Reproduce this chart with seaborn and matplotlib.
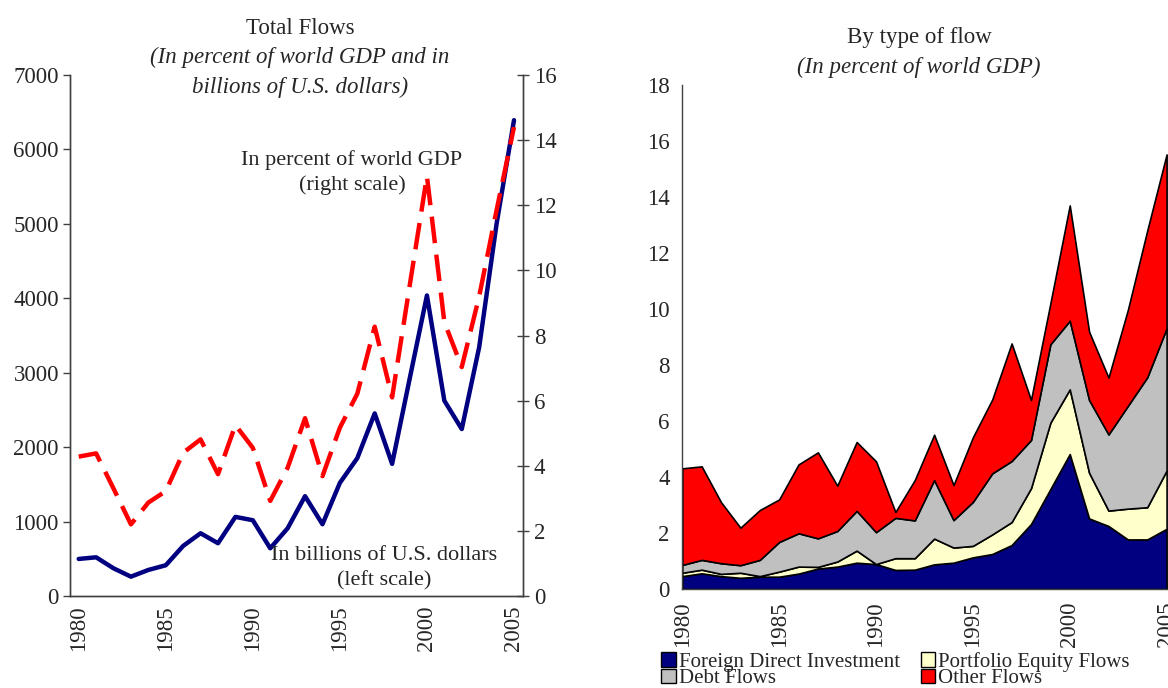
import numpy as np
import matplotlib
matplotlib.use("Agg")
import matplotlib.pyplot as plt
from matplotlib.patches import Patch
import seaborn as sns

sns.set_style("white")
plt.rcParams['font.family'] = ['Liberation Serif', 'DejaVu Serif']

# data
years = list(range(1980, 2006))
usd_bn = [498, 520, 372, 260, 350, 413, 673, 843, 709, 1063, 1018, 641, 910,
          1341, 964, 1520, 1852, 2453, 1775, 2910, 4038, 2624, 2243, 3342, 5000, 6393]
pct_gdp = [4.28, 4.38, 3.3, 2.2, 2.87, 3.22, 4.4, 4.81, 3.74, 5.25, 4.55, 2.92, 3.94,
           5.46, 3.68, 5.17, 6.21, 8.27, 6.1, 9.5, 12.89, 8.41, 7.03, 9.2, 11.85, 14.4]

fdi = [0.46, 0.56, 0.46, 0.40, 0.44, 0.44, 0.55, 0.73, 0.80, 0.94, 0.89, 0.68, 0.69,
       0.88, 0.94, 1.13, 1.25, 1.57, 2.32, 3.57, 4.82, 2.52, 2.25, 1.77, 1.77, 2.15]
port_eq = [0.12, 0.13, 0.08, 0.18, 0.02, 0.18, 0.25, 0.06, 0.18, 0.43, 0.0, 0.42, 0.41,
           0.92, 0.54, 0.41, 0.70, 0.82, 1.28, 2.37, 2.31, 1.63, 0.55, 1.10, 1.15, 2.08]
debt = [0.28, 0.35, 0.38, 0.27, 0.58, 1.06, 1.19, 1.02, 1.09, 1.42, 1.14, 1.44, 1.35,
        2.09, 0.98, 1.57, 2.18, 2.18, 1.72, 2.80, 2.45, 2.60, 2.72, 3.67, 4.64, 5.08]
other = [3.45, 3.34, 2.18, 1.34, 1.78, 1.52, 2.46, 3.07, 1.62, 2.46, 2.53, 0.21, 1.44,
         1.62, 1.25, 2.31, 2.64, 4.20, 1.43, 1.46, 4.12, 2.44, 2.03, 3.43, 5.24, 6.21]
flow_names = ['Foreign Direct Investment', 'Portfolio Equity Flows', 'Debt Flows', 'Other Flows']
flow_colors = ['#000080', '#FFFFCC', '#C0C0C0', '#FF0000']

W, H = 1168, 688
fs = 16.5
axcol = '#404040'
fig = plt.figure(figsize=(W / 100, H / 100), dpi=100)

# ---------- left panel: total flows
ax1 = fig.add_axes([70 / W, 92 / H, 452.7 / W, 521 / H])
ax2 = ax1.twinx()
sns.lineplot(x=years, y=usd_bn, ax=ax1, color='#000080', linewidth=3.2)
sns.lineplot(x=years, y=pct_gdp, ax=ax2, color='#FF0000', linewidth=3.2,
             linestyle=(0, (6, 2.6)))

ax1.set_xlim(1979.5, 2005.5)
ax1.set_ylim(0, 7000)
ax2.set_ylim(0, 16)
ax1.set_yticks(range(0, 7001, 1000))
ax2.set_yticks(range(0, 17, 2))
ax1.set_xticks([y for y in years if y % 5 == 0])
ax1.set_xticks([y - 0.5 for y in years] + [2005.5], minor=True)
ax1.tick_params(axis='x', which='major', length=0, pad=6.5, labelrotation=90, labelsize=fs)
ax1.tick_params(axis='x', which='minor', length=5, width=1, color=axcol, direction='out')
ax1.tick_params(axis='y', length=5, width=1, color=axcol, direction='out', pad=3, labelsize=fs)
ax2.tick_params(axis='y', length=8, width=1, color=axcol, direction='inout', pad=4, labelsize=fs)
for a in (ax1, ax2):
    a.spines['top'].set_visible(False)
    for s in ('left', 'right', 'bottom'):
        a.spines[s].set_color(axcol)
        a.spines[s].set_linewidth(1)
    a.set_xlabel('')
    a.set_ylabel('')

fig.text(300 / W, 1 - 28 / H, 'Total Flows', ha='center', va='center', fontsize=fs)
fig.text(300 / W, 1 - 57 / H, '(In percent of world GDP and in', ha='center', va='center',
         fontsize=fs, style='italic')
fig.text(300 / W, 1 - 87 / H, 'billions of U.S. dollars)', ha='center', va='center',
         fontsize=fs, style='italic')
fig.text(352 / W, 1 - 160 / H, 'In percent of world GDP', ha='center', va='center', fontsize=16)
fig.text(352 / W, 1 - 185 / H, '(right scale)', ha='center', va='center', fontsize=16)
fig.text(384 / W, 1 - 556 / H, 'In billions of U.S. dollars', ha='center', va='center', fontsize=16)
fig.text(384 / W, 1 - 581 / H, '(left scale)', ha='center', va='center', fontsize=16)

# ---------- right panel: by type of flow
ax3 = fig.add_axes([682.3 / W, 99 / H, 484.3 / W, 504 / H])
ax3.stackplot(years, fdi, port_eq, debt, other, colors=flow_colors,
              edgecolor='black', linewidth=1.2)
ax3.set_xlim(1980, 2005)
ax3.set_ylim(0, 18)
ax3.set_yticks(range(0, 19, 2))
ax3.set_xticks(years)
ax3.set_xticklabels([str(y) if y % 5 == 0 else '' for y in years])
ax3.tick_params(axis='x', length=5, width=1, color=axcol, direction='out', pad=4,
                labelrotation=90, labelsize=fs)
ax3.tick_params(axis='y', length=5, width=1, color=axcol, direction='out', pad=4, labelsize=fs)
for s in ('top', 'right'):
    ax3.spines[s].set_visible(False)
for s in ('left', 'bottom'):
    ax3.spines[s].set_color(axcol)
    ax3.spines[s].set_linewidth(1)

fig.text(919 / W, 1 - 37 / H, 'By type of flow', ha='center', va='center', fontsize=fs)
fig.text(919 / W, 1 - 67 / H, '(In percent of world GDP)', ha='center', va='center',
         fontsize=fs, style='italic')

order = [0, 2, 1, 3]
handles = [Patch(facecolor=flow_colors[i], edgecolor='black', linewidth=1) for i in order]
fig.legend(handles, [flow_names[i] for i in order], ncol=2, loc='upper left',
           bbox_to_anchor=(661 / W, 1 - 652 / H), frameon=False, fontsize=15,
           borderpad=0, borderaxespad=0, labelspacing=-0.15, handlelength=0.7,
           handleheight=0.7, handletextpad=0.15, columnspacing=1.0)

fig.savefig('out.png', dpi=100)
